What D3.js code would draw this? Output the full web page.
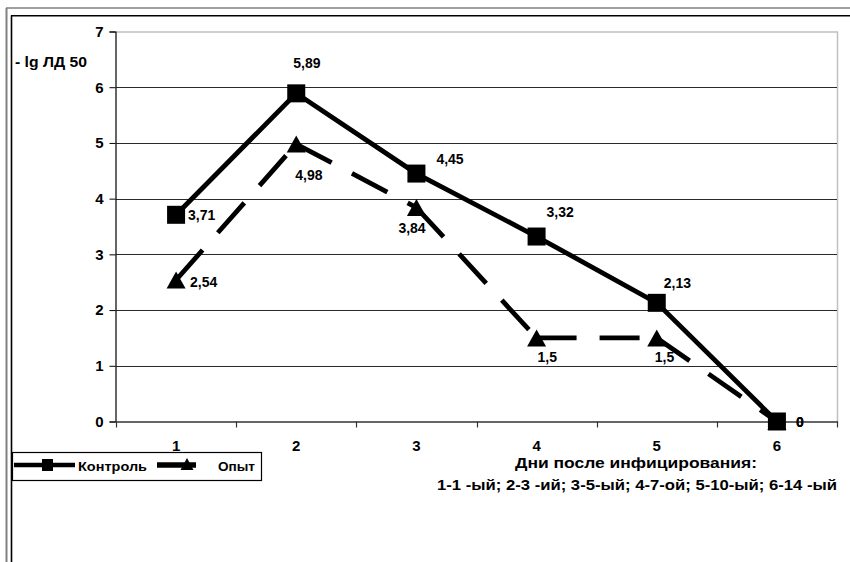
<!DOCTYPE html>
<html>
<head>
<meta charset="utf-8">
<script src="https://cdn.jsdelivr.net/npm/d3@7"></script>
<style>
  html, body { margin: 0; padding: 0; background: #fff; }
  svg { display: block; }
  text { font-family: "Liberation Sans", Arial, sans-serif; font-weight: bold; fill: #000; }
</style>
</head>
<body>
<svg id="chart" width="850" height="562"></svg>
<script>
// Survey days (category codes on the x axis)
const days = ["1", "2", "3", "4", "5", "6"];
// -lg LD50 values per day
const control = [3.71, 5.89, 4.45, 3.32, 2.13, 0];
const experiment = [2.54, 4.98, 3.84, 1.5, 1.5, 0];
const seriesNames = ["Контроль", "Опыт"];
const yTicks = [0, 1, 2, 3, 4, 5, 6, 7];
const yTitle = "- lg ЛД 50";
const xTitleLines = ["Дни после инфицирования:", "1-1 -ый; 2-3 -ий; 3-5-ый; 4-7-ой; 5-10-ый; 6-14 -ый"];

// Offsets of value labels relative to their points
const controlLabelOffsets = [[12, 5], [-3, -25], [20, -10], [10, -20], [7, -15], [19, 5]];
const experimentLabelOffsets = [[14, 7], [-1, 36], [-18, 25], [1, 24], [-2, 24], [19, 5]];

const fmt = v => String(v).replace(".", ",");

const svg = d3.select("#chart");

// Outer double frame
const frame = svg.append("g");
frame.append("line").attr("x1", 6.5).attr("x2", 6.5).attr("y1", 8).attr("y2", 562)
  .attr("stroke", "#808080").attr("stroke-width", 2);
frame.append("line").attr("x1", 6).attr("x2", 850).attr("y1", 8).attr("y2", 8)
  .attr("stroke", "#808080").attr("stroke-width", 1.5);
frame.append("line").attr("x1", 11.5).attr("x2", 11.5).attr("y1", 15.5).attr("y2", 562)
  .attr("stroke", "#000").attr("stroke-width", 1.6);
frame.append("line").attr("x1", 11).attr("x2", 850).attr("y1", 15.8).attr("y2", 15.8)
  .attr("stroke", "#000").attr("stroke-width", 1.6);

const plot = { left: 116, right: 837, top: 31.5, bottom: 421.5 };

const x = d3.scaleBand().domain(days).range([plot.left, plot.right]).padding(0);
const y = d3.scaleLinear().domain([0, 7]).range([plot.bottom, plot.top]);
const cx = d => x(d) + x.bandwidth() / 2;

// Plot area border (top and right)
svg.append("path")
  .attr("d", `M${plot.left},${plot.top + 0.5}H${plot.right + 0.5}V${plot.bottom}`)
  .attr("fill", "none").attr("stroke", "#c0c0c0").attr("stroke-width", 1.5);

// Horizontal gridlines
svg.append("g").selectAll("line")
  .data(yTicks.filter(t => t > 0 && t < 7))
  .join("line")
  .attr("x1", plot.left).attr("x2", plot.right)
  .attr("y1", d => Math.round(y(d)) + 0.5).attr("y2", d => Math.round(y(d)) + 0.5)
  .attr("stroke", "#2a2a2a").attr("stroke-width", 1.2);

// Y axis
const yAxis = svg.append("g")
  .attr("transform", `translate(${plot.left - 0.5},0)`)
  .call(d3.axisLeft(y).tickValues(yTicks).tickSize(6).tickPadding(6).tickFormat(d3.format("d")));
yAxis.select(".domain").attr("stroke", "#000").attr("stroke-width", 1.2);
yAxis.selectAll(".tick line").attr("stroke", "#000");
yAxis.selectAll(".tick text")
  .style("font-family", "'Liberation Sans', Arial, sans-serif")
  .style("font-weight", "bold").style("font-size", "15px").attr("fill", "#000");

// X axis: ticks on band boundaries, labels at band centres
const xAxisG = svg.append("g").attr("transform", `translate(0,${plot.bottom})`);
xAxisG.append("line").attr("x1", plot.left).attr("x2", plot.right + 1)
  .attr("y1", 0.5).attr("y2", 0.5).attr("stroke", "#333").attr("stroke-width", 1.4);
const bounds = days.map(d => x(d)).concat([plot.right]);
xAxisG.selectAll("line.tk").data(bounds).join("line").attr("class", "tk")
  .attr("x1", d => Math.round(d) + 0.5).attr("x2", d => Math.round(d) + 0.5)
  .attr("y1", 0).attr("y2", 6).attr("stroke", "#333").attr("stroke-width", 1.2);
xAxisG.selectAll("text").data(days).join("text")
  .attr("x", d => cx(d)).attr("y", 29.5)
  .attr("text-anchor", "middle").style("font-size", "15px").text(d => d);

// Y axis title
svg.append("text").attr("x", 15).attr("y", 66.5)
  .style("font-size", "14px")
  .attr("textLength", 72).attr("lengthAdjust", "spacingAndGlyphs").text(yTitle);

// X axis title (two lines)
svg.append("text").attr("x", 515).attr("y", 468)
  .style("font-size", "15px")
  .attr("textLength", 242).attr("lengthAdjust", "spacingAndGlyphs").text(xTitleLines[0]);
svg.append("text").attr("x", 437).attr("y", 490)
  .style("font-size", "15px")
  .attr("textLength", 400).attr("lengthAdjust", "spacingAndGlyphs").text(xTitleLines[1]);

// Marker shapes
const squareSize = 18;
const triPath = (w, h) => `M0,${-h / 2}L${w / 2},${h / 2}L${-w / 2},${h / 2}Z`;

// Experiment series: dashed, dash pattern restarts on every segment
const expG = svg.append("g");
const expPts = days.map((d, i) => [cx(d), y(experiment[i])]);
expG.selectAll("line").data(d3.pairs(expPts)).join("line")
  .attr("x1", d => d[0][0]).attr("y1", d => d[0][1])
  .attr("x2", d => d[1][0]).attr("y2", d => d[1][1])
  .attr("stroke", "#000").attr("stroke-width", 4.8)
  .attr("stroke-dasharray", "40,23");
expG.selectAll("path").data(expPts).join("path")
  .attr("transform", d => `translate(${d[0]},${d[1]})`)
  .attr("d", triPath(19, 17)).attr("fill", "#000");

// Control series: solid line with square markers
const line = d3.line().x((d, i) => cx(days[i])).y(d => y(d));
svg.append("path").datum(control).attr("d", line)
  .attr("fill", "none").attr("stroke", "#000").attr("stroke-width", 4.8)
  .attr("stroke-linejoin", "miter");
svg.append("g").selectAll("rect").data(control).join("rect")
  .attr("x", (d, i) => cx(days[i]) - squareSize / 2)
  .attr("y", d => y(d) - squareSize / 2)
  .attr("width", squareSize).attr("height", squareSize).attr("fill", "#000");

// Value labels
svg.append("g").selectAll("text").data(experiment).join("text")
  .attr("x", (d, i) => cx(days[i]) + experimentLabelOffsets[i][0])
  .attr("y", (d, i) => y(d) + experimentLabelOffsets[i][1])
  .style("font-size", "14px").text(fmt);
svg.append("g").selectAll("text").data(control).join("text")
  .attr("x", (d, i) => cx(days[i]) + controlLabelOffsets[i][0])
  .attr("y", (d, i) => y(d) + controlLabelOffsets[i][1])
  .style("font-size", "14px").text(fmt);

// Legend
const lg = svg.append("g");
lg.append("rect").attr("x", 12.5).attr("y", 452.5).attr("width", 249).attr("height", 28)
  .attr("fill", "#fff").attr("stroke", "#000").attr("stroke-width", 1.2);
lg.append("line").attr("x1", 14).attr("x2", 75).attr("y1", 465).attr("y2", 465)
  .attr("stroke", "#000").attr("stroke-width", 4.5);
lg.append("rect").attr("x", 42).attr("y", 459).attr("width", 11).attr("height", 12).attr("fill", "#000");
lg.append("text").attr("x", 78).attr("y", 471).style("font-size", "13px")
  .attr("textLength", 69).attr("lengthAdjust", "spacingAndGlyphs").text(seriesNames[0]);
lg.append("line").attr("x1", 157).attr("x2", 218).attr("y1", 465).attr("y2", 465)
  .attr("stroke", "#000").attr("stroke-width", 5.5).attr("stroke-dasharray", "39,30");
lg.append("path").attr("transform", "translate(187,464)").attr("d", triPath(13, 12)).attr("fill", "#000");
lg.append("text").attr("x", 218).attr("y", 471).style("font-size", "13px")
  .attr("textLength", 37).attr("lengthAdjust", "spacingAndGlyphs").text(seriesNames[1]);
</script>
</body>
</html>
